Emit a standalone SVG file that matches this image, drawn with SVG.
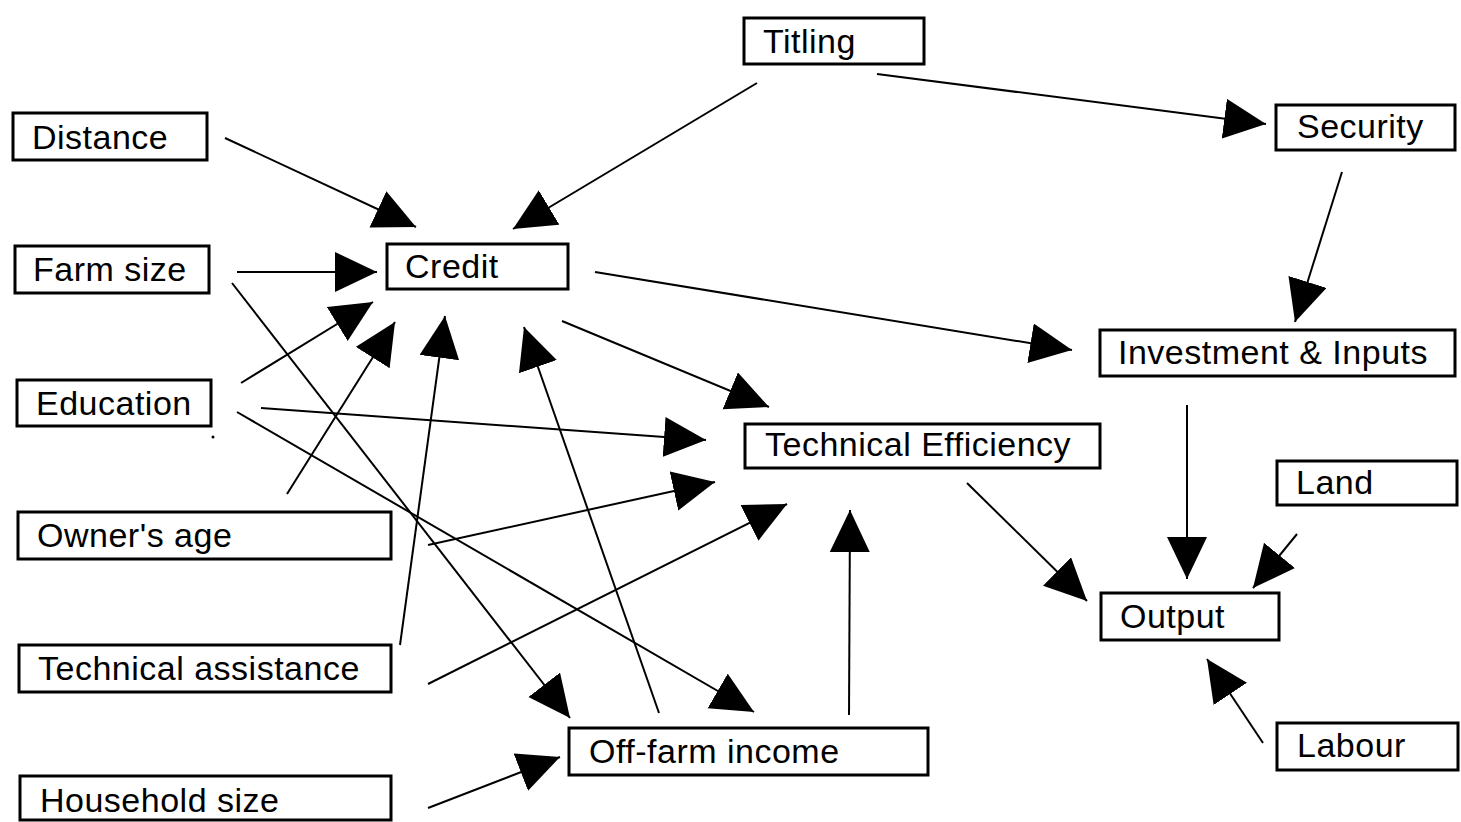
<svg xmlns="http://www.w3.org/2000/svg" width="1461" height="822" viewBox="0 0 1461 822">
<style>
.box{fill:#fff;stroke:#000;stroke-width:3}
.lbl{font-family:"Liberation Sans",Arial,sans-serif;font-size:34px;letter-spacing:0.5px;fill:#000}
.edge{stroke:#000;stroke-width:2;fill:none;marker-end:url(#ah)}
</style>
<defs>
<marker id="ah" markerUnits="userSpaceOnUse" markerWidth="44" markerHeight="42" refX="42" refY="20" orient="auto" viewBox="0 0 44 42">
<path d="M0,0 L42,20 L0,40 z" fill="#000"/>
</marker>
</defs>
<rect width="1461" height="822" fill="#fff"/>
<g id="connectors">
<line class="edge" x1="225" y1="138" x2="416" y2="227"/>
<line class="edge" x1="237" y1="272" x2="377" y2="272"/>
<line class="edge" x1="757" y1="83" x2="513" y2="229"/>
<line class="edge" x1="877" y1="74" x2="1266" y2="124"/>
<line class="edge" x1="1342" y1="172" x2="1295" y2="322"/>
<line class="edge" x1="595" y1="272" x2="1072" y2="350"/>
<line class="edge" x1="562" y1="321" x2="769" y2="407"/>
<line class="edge" x1="241" y1="383" x2="373" y2="302"/>
<line class="edge" x1="287" y1="494" x2="395" y2="322"/>
<line class="edge" x1="400" y1="645" x2="445" y2="316"/>
<line class="edge" x1="659" y1="713" x2="524" y2="327"/>
<line class="edge" x1="261" y1="408" x2="706" y2="440"/>
<line class="edge" x1="428" y1="545" x2="715" y2="482"/>
<line class="edge" x1="428" y1="684" x2="787" y2="504"/>
<line class="edge" x1="849" y1="715" x2="850" y2="510"/>
<line class="edge" x1="232" y1="283" x2="570" y2="718"/>
<line class="edge" x1="237" y1="412" x2="754" y2="712"/>
<line class="edge" x1="428" y1="808" x2="560" y2="757"/>
<line class="edge" x1="1187" y1="405" x2="1187" y2="579"/>
<line class="edge" x1="967" y1="483" x2="1087" y2="601"/>
<line class="edge" x1="1297" y1="534" x2="1253" y2="588"/>
<line class="edge" x1="1263" y1="743" x2="1207" y2="659"/>
</g>
<circle cx="213" cy="437" r="1.5" fill="#000"/>
<g id="titling"><rect class="box" x="744" y="18" width="180" height="46"/><text class="lbl" x="763" y="53">Titling</text></g>
<g id="distance"><rect class="box" x="13" y="113" width="194" height="47"/><text class="lbl" x="32" y="149">Distance</text></g>
<g id="security"><rect class="box" x="1276" y="105" width="179" height="45"/><text class="lbl" x="1297" y="138">Security</text></g>
<g id="farm-size"><rect class="box" x="15" y="246" width="194" height="47"/><text class="lbl" x="33" y="281">Farm size</text></g>
<g id="credit"><rect class="box" x="387" y="244" width="181" height="45"/><text class="lbl" x="405" y="278">Credit</text></g>
<g id="investment"><rect class="box" x="1100" y="330" width="355" height="46"/><text class="lbl" x="1118" y="364">Investment &amp; Inputs</text></g>
<g id="education"><rect class="box" x="17" y="380" width="194" height="46"/><text class="lbl" x="36" y="415">Education</text></g>
<g id="technical-efficiency"><rect class="box" x="745" y="424" width="355" height="44"/><text class="lbl" x="765" y="456">Technical Efficiency</text></g>
<g id="land"><rect class="box" x="1277" y="461" width="180" height="44"/><text class="lbl" x="1296" y="494">Land</text></g>
<g id="owners-age"><rect class="box" x="18" y="512" width="373" height="47"/><text class="lbl" x="37" y="547">Owner's age</text></g>
<g id="output"><rect class="box" x="1101" y="593" width="178" height="47"/><text class="lbl" x="1120" y="628">Output</text></g>
<g id="technical-assistance"><rect class="box" x="19" y="645" width="372" height="47"/><text class="lbl" x="38" y="680">Technical assistance</text></g>
<g id="off-farm-income"><rect class="box" x="569" y="728" width="359" height="47"/><text class="lbl" x="589" y="763">Off-farm income</text></g>
<g id="labour"><rect class="box" x="1277" y="723" width="181" height="47"/><text class="lbl" x="1297" y="757">Labour</text></g>
<g id="household-size"><rect class="box" x="20" y="776" width="371" height="44"/><text class="lbl" x="40" y="812">Household size</text></g>
</svg>
